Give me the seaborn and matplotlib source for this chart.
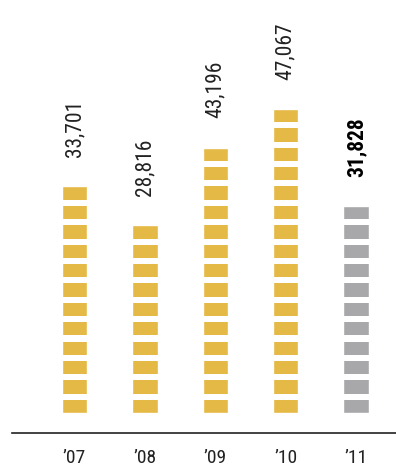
import matplotlib
matplotlib.use("Agg")
import pandas as pd
import seaborn as sns
import matplotlib.pyplot as plt

# datos del gráfico
years = ["\u201907", "\u201908", "\u201909", "\u201910", "\u201911"]
values = [33701, 28816, 43196, 47067, 31828]
blocks = [12, 10, 14, 16, 11]          # número de bloques apilados en cada barra
colores = ["#E5B945", "#E5B945", "#E5B945", "#E5B945", "#A8A8AB"]

sns.set_theme(style="white")
plt.rcParams['font.family'] = ['Liberation Sans Narrow', 'Roboto Condensed', 'DejaVu Sans']
plt.rcParams['font.stretch'] = 'condensed'

seg = 0.687   # fracción del bloque que es color (el resto es hueco blanco)

df = pd.DataFrame({'year': years, 'blocks': blocks, 'value': values})
df['height'] = df['blocks'] - 1 + seg

fig = plt.figure(figsize=(3.96, 4.75), dpi=100)
ax = fig.add_axes([12 / 396, 42 / 475, 384 / 396, 433 / 475])

sns.barplot(data=df, x='year', y='height', hue='year', palette=colores,
            width=0.36, legend=False, ax=ax, saturation=1, zorder=1)

# huecos blancos entre bloques
for k in range(max(blocks)):
    ax.axhspan(k + seg, k + 1, color='white', lw=0, zorder=2)

# etiquetas de valor
for i, (v, h) in enumerate(zip(values, df['height'])):
    ultimo = i == len(values) - 1
    ax.annotate(f"{v:,}", (i, h), xytext=(0, 21), textcoords='offset points',
                rotation=90, ha='center', va='bottom', fontsize=15.5,
                color='black' if ultimo else '#222222',
                fontweight='bold' if ultimo else 'normal', zorder=3)

ax.set_xlim(-0.888, 4.567)
ax.set_ylim(-1.03, 21.3)
ax.set_xlabel("")
ax.set_ylabel("")
ax.set_yticks([])
for s in ['top', 'right', 'left']:
    ax.spines[s].set_visible(False)
ax.spines['bottom'].set_color('#222222')
ax.spines['bottom'].set_linewidth(1.2)
ax.tick_params(axis='x', length=0, pad=11.5, labelsize=14, labelcolor='#222222')

fig.savefig("out.png", dpi=100)
